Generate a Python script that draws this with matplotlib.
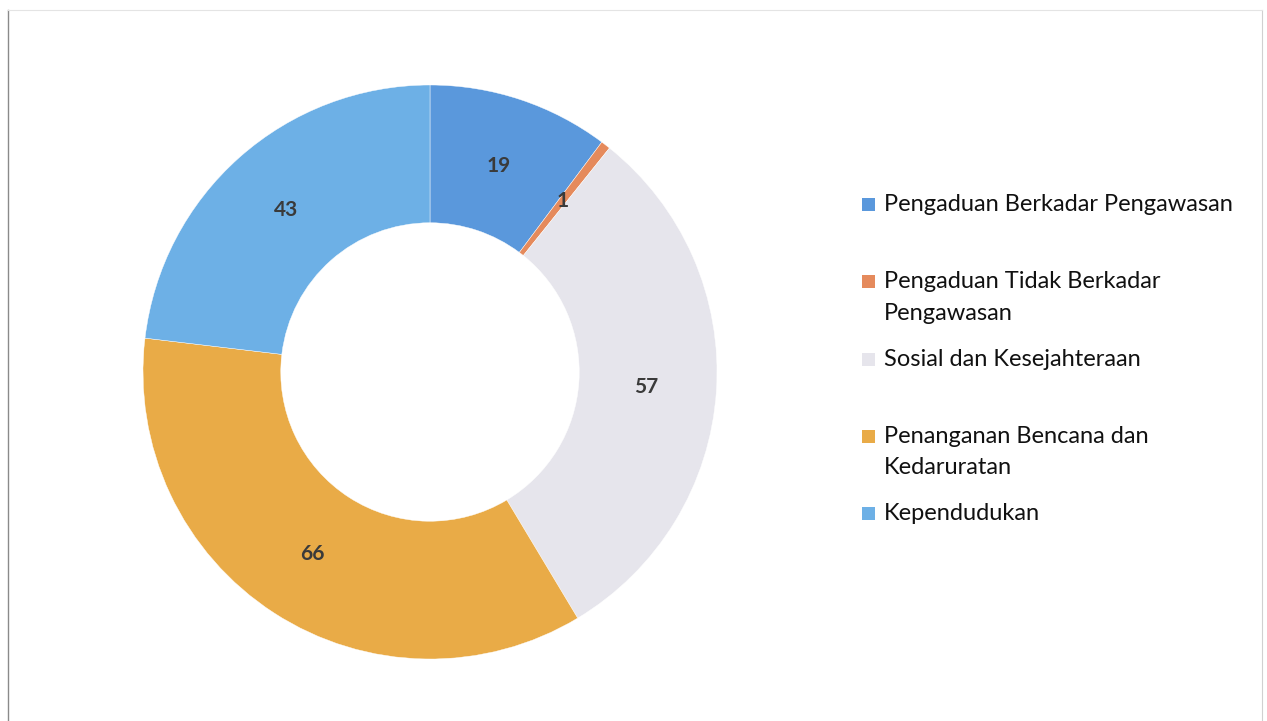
import matplotlib
matplotlib.use("Agg")
import matplotlib.pyplot as plt
from matplotlib.patches import Rectangle

categories = [
    "Pengaduan Berkadar Pengawasan",
    "Pengaduan Tidak Berkadar\nPengawasan",
    "Sosial dan Kesejahteraan",
    "Penanganan Bencana dan\nKedaruratan",
    "Kependudukan",
]
values = [19, 1, 57, 66, 43]
colors = ["#5A98DC", "#E58A5C", "#E6E5EC", "#E9AB47", "#6DB0E6"]

plt.rcParams["font.family"] = ["Lato", "DejaVu Sans"]

W, H = 1267, 721
fig = plt.figure(figsize=(W / 100, H / 100), dpi=100)

# donut centred at (430, 372) px, outer radius ~287 px
cx, cy, r = 430, 372, 287
ax = fig.add_axes([(cx - r) / W, (H - cy - r) / H, 2 * r / W, 2 * r / H])
wedges, _, autotexts = ax.pie(
    values,
    colors=colors,
    startangle=90,
    counterclock=False,
    radius=1.0,
    wedgeprops=dict(width=0.48, edgecolor="white", linewidth=0.3),
    autopct=lambda p: f"{p * sum(values) / 100:.0f}",
    pctdistance=0.755,
    textprops=dict(fontsize=15, fontweight="bold", color="#3a3a3a"),
)
ax.set_xlim(-1, 1)
ax.set_ylim(-1, 1)
ax.set_aspect("equal")
ax.axis("off")

# legend drawn by hand so the square sits on the first line
y0, step = 204, 77.3
for i, (lab, col) in enumerate(zip(categories, colors)):
    y = y0 + i * step
    fig.patches.append(Rectangle((862 / W, (H - y - 7) / H), 13 / W, 13 / H,
                                 transform=fig.transFigure, facecolor=col,
                                 edgecolor="none"))
    fig.text(884 / W, (H - y + 10) / H, lab, fontsize=17, color="#111111",
             va="top", ha="left", linespacing=1.6,
             transform=fig.transFigure)

# faint frame of the original figure
fig.add_artist(plt.Line2D([8 / W, 8 / W], [0, 1 - 10 / H], color="#8a8a8a", lw=1.0))
fig.add_artist(plt.Line2D([1262 / W, 1262 / W], [0, 1 - 10 / H], color="#d0d0d0", lw=0.8))
fig.add_artist(plt.Line2D([8 / W, 1262 / W], [1 - 10 / H, 1 - 10 / H], color="#e4e4e4", lw=0.8))

fig.savefig("out.png", dpi=100, facecolor="white")
